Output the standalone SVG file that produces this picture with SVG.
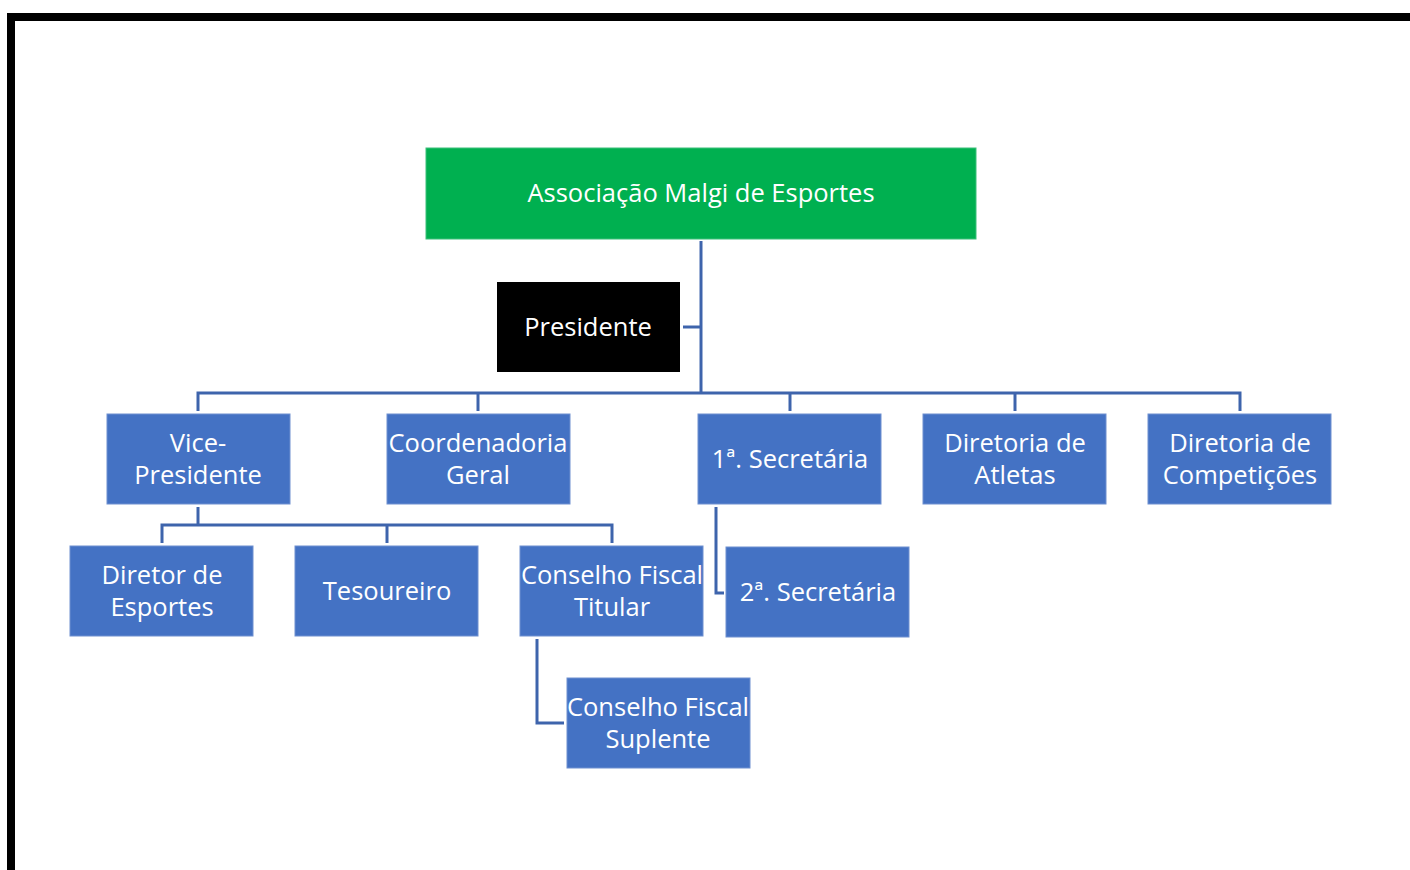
<svg xmlns="http://www.w3.org/2000/svg" width="1410" height="870" viewBox="0 0 1410 870">
<style>
.box{fill:#4472C4;stroke:#6E90D0;stroke-width:1}
.t{fill:#fff;font-family:"Open Sans","Noto Sans",sans-serif;font-size:25.5px;text-anchor:middle}
.c{fill:none;stroke:#3E64AC;stroke-width:3}
</style>
<rect x="0" y="0" width="1410" height="870" fill="#fff"/>
<path d="M11 870 V17 H1410" fill="none" stroke="#000" stroke-width="8"/>
<g id="connectors">
<path class="c" d="M701 241 V393"/>
<path class="c" d="M683 327 H701"/>
<path class="c" d="M198 411 V393 H1240 V411"/>
<path class="c" d="M478 393 V411"/>
<path class="c" d="M790 393 V411"/>
<path class="c" d="M1015 393 V411"/>
<path class="c" d="M198 507 V525"/>
<path class="c" d="M162 543 V525 H612 V543"/>
<path class="c" d="M387 525 V543"/>
<path class="c" d="M716 507 V593 H724"/>
<path class="c" d="M537 639 V723 H564"/>
</g>
<g id="assoc"><rect x="426" y="148" width="550" height="91" fill="#00B050" stroke="#3CC07A" stroke-width="1"/><text class="t" x="701" y="202">Associação Malgi de Esportes</text></g>
<g id="presidente"><rect x="497" y="282" width="183" height="90" fill="#000"/><text class="t" x="588" y="336">Presidente</text></g>
<g id="vice"><rect class="box" x="107" y="414" width="183" height="90"/><text class="t" x="198" y="452">Vice-</text><text class="t" x="198" y="484">Presidente</text></g>
<g id="coord"><rect class="box" x="387" y="414" width="183" height="90"/><text class="t" x="478" y="452">Coordenadoria</text><text class="t" x="478" y="484">Geral</text></g>
<g id="sec1"><rect class="box" x="698" y="414" width="183" height="90"/><text class="t" x="790" y="468">1ª. Secretária</text></g>
<g id="atletas"><rect class="box" x="923" y="414" width="183" height="90"/><text class="t" x="1015" y="452">Diretoria de</text><text class="t" x="1015" y="484">Atletas</text></g>
<g id="competicoes"><rect class="box" x="1148" y="414" width="183" height="90"/><text class="t" x="1240" y="452">Diretoria de</text><text class="t" x="1240" y="484">Competições</text></g>
<g id="diretor"><rect class="box" x="70" y="546" width="183" height="90"/><text class="t" x="162" y="584">Diretor de</text><text class="t" x="162" y="616">Esportes</text></g>
<g id="tesoureiro"><rect class="box" x="295" y="546" width="183" height="90"/><text class="t" x="387" y="600">Tesoureiro</text></g>
<g id="titular"><rect class="box" x="520" y="546" width="183" height="90"/><text class="t" x="612" y="584">Conselho Fiscal</text><text class="t" x="612" y="616">Titular</text></g>
<g id="sec2"><rect class="box" x="726" y="547" width="183" height="90"/><text class="t" x="818" y="601">2ª. Secretária</text></g>
<g id="suplente"><rect class="box" x="567" y="678" width="183" height="90"/><text class="t" x="658" y="716">Conselho Fiscal</text><text class="t" x="658" y="748">Suplente</text></g>
</svg>
